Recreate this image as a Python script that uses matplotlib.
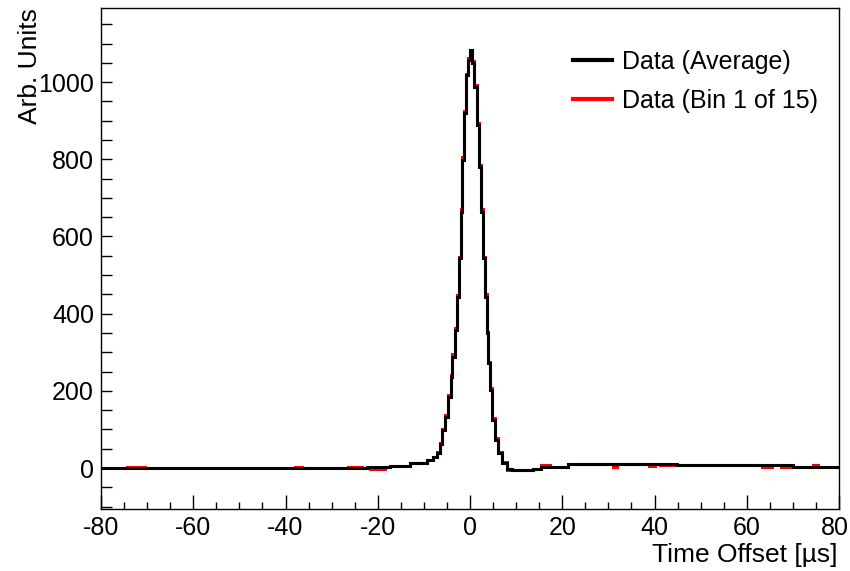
import matplotlib
matplotlib.use("Agg")
import matplotlib.pyplot as plt
import matplotlib.transforms as mtransforms
from matplotlib.ticker import MultipleLocator
from matplotlib.lines import Line2D

# ---- data (step histogram: bin edges in µs, values in arb. units) ----
avg_edges = [-80, -22.4, -17.3, -13.0, -9.4, -8.0, -7.2, -6.6, -6.1, -5.4, -4.7, -4.2, -3.8,
             -3.25, -2.9, -2.4, -2.0, -1.66, -1.3, -0.9, -0.5, 0.0, 0.45, 0.87, 1.45, 1.95,
             2.38, 2.75, 3.25, 3.6, 3.97, 4.34, 4.8, 5.4, 6.1, 6.9, 7.95, 9.0, 13.7, 15.5,
             21.3, 44.8, 70.0, 80]
avg_values = [0, 2, 5, 12, 21, 28, 40, 62, 98, 133, 185, 237, 288,
              357, 444, 543, 664, 798, 920, 1018, 1058, 1083, 1050, 988, 889,
              781, 664, 543, 444, 349, 271, 202, 124, 73, 38, 12, -3, -4, -2,
              4, 10, 7, 4]

bin1_edges = [-80, -74.4, -70.4, -38.0, -36.5, -26.4, -23.5, -21.7, -18.4, -17.3, -13.0, -9.4,
              -8.0, -7.2, -6.6, -6.1, -5.4, -4.7, -4.2, -3.8, -3.25, -2.9, -2.4, -2.0, -1.66,
              -1.3, -0.9, -0.5, 0.0, 0.45, 0.87, 1.45, 1.95, 2.38, 2.75, 3.25, 3.6, 3.97, 4.34,
              4.8, 5.4, 6.1, 6.9, 7.95, 9.0, 13.7, 15.5, 17.3, 21.3, 31.1, 31.8, 38.9, 40.0,
              41.2, 45.5, 63.2, 65.4, 67.5, 70.0, 74.4, 75.4, 80]
bin1_values = [0, 4, 0, 3, 0, 3, 0, -3, 2, 6, 13, 22,
               30, 42, 66, 102, 138, 190, 240, 295, 362, 449, 548, 670,
               806, 925, 1020, 1062, 1080, 1055, 993, 894, 785, 670, 548, 450, 353, 275,
               208, 130, 78, 42, 15, -5, -5, -2, 7, 4, 10, 4, 10, 6,
               10, 7, 7, 3, 7, 3, 4, 8, 4]

x_label = "Time Offset [µs]"
y_label = "Arb. Units"
legend_labels = ["Data (Average)", "Data (Bin 1 of 15)"]

plt.rcParams['font.family'] = ['Liberation Sans', 'DejaVu Sans']
plt.rcParams['axes.unicode_minus'] = False

W, H = 850, 571
fig = plt.figure(figsize=(W / 100, H / 100), dpi=100)
L, R, T, B = 101, 839, 8, 509
ax = fig.add_axes([L / W, 1 - B / H, (R - L) / W, (B - T) / H])

ax.stairs(bin1_values, bin1_edges, color='#ff0000', lw=2.2, baseline=None)
ax.stairs(avg_values, avg_edges, color='black', lw=2.2, baseline=None)

ax.set_xlim(-80, 80)
ax.set_ylim(-106, 1192)

ax.xaxis.set_major_locator(MultipleLocator(20))
ax.xaxis.set_minor_locator(MultipleLocator(5))
ax.yaxis.set_major_locator(MultipleLocator(200))
ax.yaxis.set_minor_locator(MultipleLocator(50))

px = 72 / 100
ax.tick_params(axis='both', which='both', direction='in', top=False, right=False,
               width=1.0, labelsize=18)
ax.tick_params(axis='x', which='major', length=14 * px, pad=5)
ax.tick_params(axis='x', which='minor', length=7 * px)
ax.tick_params(axis='y', which='major', length=11 * px, pad=5)
ax.tick_params(axis='y', which='minor', length=11 * px)
for s in ax.spines.values():
    s.set_linewidth(1.0)

# keep the last x tick label inside the canvas, as in the reference
fig.canvas.draw()
last = ax.xaxis.get_major_ticks()
vis = [t for t in last if -80 <= t.get_loc() <= 80]
lab = vis[-1].label1
lab.set_transform(lab.get_transform() + mtransforms.ScaledTranslation(-4 / 100, 0, fig.dpi_scale_trans))

fig.text(30 / W, 1 - 8 / H, y_label, rotation=90, ha='center', va='top', fontsize=19)
fig.text(837 / W, 1 - 555 / H, x_label, ha='right', va='center', fontsize=19)

handles = [Line2D([], [], color='black', lw=3), Line2D([], [], color='#ff0000', lw=3)]
fig.legend(handles, legend_labels, loc='upper left', bbox_to_anchor=(573 / W, 1 - 50 / H),
           frameon=False, fontsize=18, borderpad=0, borderaxespad=0,
           handlelength=1.55, handletextpad=0.4, labelspacing=0.6)

fig.savefig("out.png", dpi=100)
